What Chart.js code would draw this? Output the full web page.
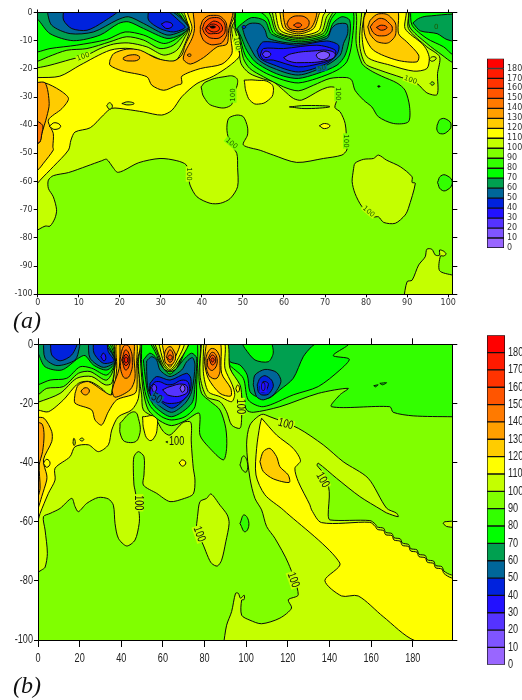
<!DOCTYPE html>
<html><head><meta charset="utf-8">
<script src="https://cdn.jsdelivr.net/npm/chart.js@4/dist/chart.umd.js"></script>
<style>
html,body{margin:0;padding:0;background:#fff;width:522px;height:700px;overflow:hidden}
canvas{position:absolute}
.tag{position:absolute;left:13px;font:italic 24px/24px "Liberation Serif",serif;color:#111}
</style></head><body>
<div style="position:absolute;left:0;top:0;width:470px;height:320px"><canvas id="ca"></canvas></div>
<div style="position:absolute;left:480px;top:50px;width:42px;height:210px"><canvas id="ba"></canvas></div>
<div class="tag" style="top:308px">(a)</div>
<div style="position:absolute;left:0;top:330px;width:470px;height:345px"><canvas id="cb"></canvas></div>
<div style="position:absolute;left:480px;top:325px;width:42px;height:350px"><canvas id="bb"></canvas></div>
<div class="tag" style="top:673px">(b)</div>
<script>
// ---- shared values ----
const binLows=[0,10,20,30,40,50,60,70,80,90,100,110,120,130,140,150,160,170,180];
const binColors=['#9966ff','#7f55ff','#5533ff','#2211ff','#0022dd','#006699','#00a050','#00ff00','#33ff00','#80ff00','#c4ff00','#ffff00','#ffcc00','#ff9f00','#ff7a00','#ff5500','#ff3300','#ff1a00','#ff0000'];
const barTicks=[0,10,20,30,40,50,60,70,80,90,100,110,120,130,140,150,160,170,180];
const xTicksA=[0,10,20,30,40,50,60,70,80,90,100];
const yTicksA=[-100,-90,-80,-70,-60,-50,-40,-30,-20,-10,0];
const xTicksB=[0,20,40,60,80,100,120,140,160,180];
const yTicksB=[-100,-80,-60,-40,-20,0];

// ---- panel (a) contours: flat x,y lists in axis units ----
const aBg=[-20,20,130,20,130,-130,-20,-130];
const aLime=[-1,-78,1.8,-75.8,3,-75.8,4.2,-73,4.6,-70,3.8,-65.4,2.6,-62.4,2.6,-59.5,3.8,-57.9,7.5,-56.8,12,-54.5,15.6,-52.6,16.8,-52.1,18.5,-55.3,19.4,-56.7,20.9,-56.1,24.6,-53.3,29.8,-51.8,33.9,-52.6,36.2,-54.1,36.8,-58,37.1,-61.2,38.8,-65.4,42,-67.7,44.5,-67.7,46.9,-66,48.7,-61.8,48.7,-55,48.5,-50,46.9,-46.5,46.1,-41.8,46.5,-37.6,48.5,-36.4,50.1,-37,51.1,-40.6,51.1,-43.5,50.1,-47,54.2,-48.9,57.4,-50.6,63.1,-53.2,69.6,-51.8,74.1,-50.6,75.3,-48.8,75.3,-46.5,74.9,-39.4,73.7,-35.3,72.4,-33.7,73,-30.5,73,-27,71.2,-26.4,68.8,-27.6,64.3,-31.1,62.3,-30.5,59.9,-27.6,57.4,-24.6,55,-23.6,51.5,-21.5,49.5,-18,49,-12,48,-6,47.5,-5,47,3,-1,3];
const aHole=[39.8,-26.4,41,-24.6,45.4,-22.8,48.2,-23,48.6,-25.8,47.4,-29.3,47,-33,43,-33.3,40.6,-30.3];
const aBlobY=[50.3,-24,53,-24,56.6,-25,57.4,-28.2,56.2,-31.1,53.8,-32.5,52.1,-31.7,50.9,-28.8];
const aSliver=[61.3,-33.5,65.6,-33,71.2,-33.4,65.6,-34.1];
const aLoopY=[68.6,-40.2,69.9,-39.4,71.2,-40.2,69.9,-41.2];
const aHoleR1=[97.3,-40,98.1,-37.9,99.7,-38,100.7,-40,99.7,-42.4,98.1,-43,97.3,-41.8];
const aHoleR2=[97.4,-60.3,98.2,-58,99.7,-57.9,101,-60.3,99.7,-63,98.2,-62.8];
const aIsland=[76.9,-55.9,77.3,-53.5,79.4,-52.1,81.8,-51.8,83,-50.6,85,-52.4,88.3,-54.7,91.2,-58.3,91.2,-60.3,92,-60.6,90.3,-69.5,89.5,-71.9,87.1,-74.8,84.3,-74.5,83,-72.5,81.8,-72.5,79,-68.9,77.3,-64.2,76.6,-60];
const aCorner=[89.1,-102,90,-95.5,91.2,-95,92.8,-89.6,94.4,-86.7,94.8,-84,96,-84,96.9,-86.1,97.9,-86.1,97.9,-84.3,98.9,-84.7,99.5,-85.7,98.9,-86.4,98.1,-86.4,97.9,-91.6,101.1,-93.2,104,-94,104,-102];
const aYellow=[-1,-62.5,0.6,-59.5,3.8,-54.7,7.5,-48.8,8.1,-45.3,9.1,-42.4,12.8,-40.9,16,-36.4,18,-34,21.7,-34.4,25.8,-35.3,30.2,-36.4,32.7,-34.7,35.1,-29.9,38.8,-25.2,42.8,-22.6,46.9,-18.7,49.2,-15.1,47.7,-9.8,47.3,-5.1,49.3,1,35.4,1,37,-5.7,35.9,-11,33.9,-16.7,31.5,-17.5,27.4,-15.1,22.5,-12.8,17.6,-13.4,10.3,-18.7,5.4,-22.6,0,-23.1,-1,-23];
const aLoop1=[16.8,-33.1,17.5,-32,18.2,-33.3,17.5,-34.3];
const aLoop2=[20.5,-32.3,22,-31.7,23.5,-32.3,22,-32.8];
const aStrip120=[-1,-25,1.8,-25,5.4,-27.6,7.5,-30.5,5.9,-34.1,2.6,-38.2,3.8,-43,3.7,-47.7,3.8,-48.8,1.4,-53.5,0,-55.9,-1,-56];
const aStrip130=[-1,-25,1.8,-25,2.8,-32.3,2.2,-37,1,-43,0.5,-46,-1,-47];
const aStrip140=[-1,-37.8,1.2,-40,1,-43,0.5,-46,-1,-46];
const aStripLoop=[2.8,-40.4,4.2,-39.1,5.6,-40.4,4.2,-41.5];
const aOrange=[17.6,-16.9,18.5,-14.6,21.7,-13,25,-13.4,29,-16.3,33.1,-17.2,35.1,-15.1,35.9,-11.6,37.6,-5.7,36.7,1,48.2,1,46.9,-5.1,47.1,-9.8,47.3,-14.6,44.9,-18.3,39.6,-19.9,35.1,-22.6,35.1,-25.2,33.9,-25.8,30.7,-27.6,27.8,-25.8,26.6,-22.8,20.5,-20.7,17.6,-18.7];
const aPatch=[20.9,-16,22.5,-15.1,24.6,-15.4,24.6,-16.7,22.5,-17.2,20.9,-16.7];
const aPk130=[37.8,1,38.2,-5.7,37.6,-9.2,35.9,-14,35.5,-16.7,37.2,-18.3,40.4,-16,43.7,-12.2,46.1,-11.2,46.5,-6.3,47.3,1];
const aPk140=[39.6,-5.1,40.6,-2.1,42.8,-1,45.1,-2.1,46.1,-5.7,45.4,-9.8,43.7,-11.3,41.2,-10.8,39.8,-8];
const aPk150=[40.1,-5.7,41,-3,43,-1.8,44.9,-2.7,45.7,-5.7,44.9,-8.4,42.8,-9.2,41,-8];
const aPk160=[40.8,-5.7,41.9,-3.9,43.3,-3.1,44.9,-4.9,44.6,-6.9,42.8,-7.5,41.4,-7.2];
const aPk170=[41,-5.4,42.8,-4.1,44.3,-5.7,42.8,-6.9];
const aPkDot=[41.9,-5,42.9,-4.8,43.3,-5.2,42.4,-5.5];
const aPkLoop=[36.4,-15.1,36.9,-14.7,37.4,-15.1,36.9,-15.6];
const aL90=[-1,-19.6,0,-19.6,3,-18.7,7.9,-16.7,12,-15.1,15.2,-12.8,18.5,-11.2,22.1,-10.8,26.6,-12.2,30.7,-15.1,33.9,-13.4,35.9,-8.6,36.7,-5.7,34.7,1,-1,3];
const aL80=[-1,-17.3,0,-17.3,2.6,-15.7,7.1,-13.4,12,-12.8,17.6,-10.4,21.7,-8.6,25.8,-9.8,29.8,-12.8,33.1,-11.6,35.9,-7.5,36.7,-5.4,33.9,1,-1,3];
const aL70=[-1,-14,0,-14,3,-12.8,9.5,-11.6,16.8,-9.6,21.3,-6.9,25.8,-8,30.7,-11,33.9,-9.2,36.3,-5.7,33.1,1,-1,3];
const aL60=[-1,-1.8,0,-2.4,3,-7.5,8.7,-10,15.2,-8,19.7,-3.9,22.1,-3.3,25.8,-5.7,31.5,-9.2,34.7,-8,36.7,-5.3,32.3,1,-1,2];
const aL50=[2.2,1,3.4,-4.5,7.9,-7.5,13.6,-6.9,19.3,-2.7,22.1,-1.5,25.8,-3.9,31.5,-8,34.7,-6.9,36.7,-5.1,31.5,1];
const aL40a=[6.3,1,6.3,-2.7,8.3,-5.7,12,-6.3,16,-3.3,19.7,1];
const aL40b=[27,1,27,-2.7,29.8,-5.7,33.1,-6.9,35.9,-5.3,34.7,-3.3,31,1];
const aL30=[30.1,-4.1,31.5,-3.3,32.9,-4.5,31.5,-5.7];
const aU80=[47.8,1,48.1,-5.3,48.9,-7.5,50.1,-16.3,51.7,-19.9,55,-22.8,59.9,-26.4,63.5,-27.8,67.2,-25.8,71.2,-23.4,75.3,-23.1,76.5,-24,77.3,-27.6,79.4,-31.1,81.4,-33.5,83,-37,86.7,-39.4,90.3,-38.8,90.6,-33.5,89.5,-27.6,87.5,-25,83.8,-22.6,81,-20.5,79,-18.1,77.6,-11,77.3,1,72.7,1,71.1,-2.1,69.5,-7.5,63.5,-9.2,58.2,-7.1,56.8,-1.5,55.8,1];
const aU70=[48.2,1,48.2,-5.3,49.1,-8,50.5,-15.1,52.5,-18.7,55.8,-21.7,59.9,-24,63.5,-25,68,-23.4,72.9,-20.5,75.3,-17.5,76.5,-11,76.8,1,73.7,1,71.6,-2.1,69.9,-8,63.5,-9.8,57.6,-7.5,56,-2.1,54.2,0.2,51.7,1];
const aU60=[48.6,-5.7,49.7,-9.2,50.9,-13.4,53,-17.5,56.6,-20.7,59.9,-22.6,63.5,-23.4,68,-21.7,72.9,-18.7,74.9,-15.1,76,-8.6,76,-2.7,74.1,-1.5,72,-3.7,70.4,-8.4,63.5,-10.4,57,-7.7,55.4,-3,52.1,-1.8,49.3,-4.5];
const aU50=[49.9,-5.7,51.7,-3.9,54.2,-4.1,55.4,-6.3,56.2,-9.2,63.1,-11,70.4,-9.2,71.6,-5.7,72.9,-4.1,75.3,-4.1,75.5,-7.5,74.5,-11,73.7,-15.1,70.4,-18.7,63.5,-22.2,56.6,-19.3,53.4,-16.3,51.7,-12.2,50.5,-8.6];
const aU40=[53.4,-13.4,55,-10.4,63.5,-11.6,70.4,-10.1,73.3,-11.6,73,-14.6,70.4,-18.1,63.5,-21.1,56.6,-18.1,54.2,-16.3];
const aU30=[54.2,-15.1,55,-12.8,59.9,-12.8,68,-11.6,72.5,-13.4,72.1,-16.3,68.8,-18.1,63.5,-19.3,57.4,-16.9,55,-16.7];
const aU20=[59.9,-16,61.9,-14.6,67.6,-13.6,71.2,-13.6,72.5,-15.1,70.8,-16.9,63.9,-17.8,61.1,-17.2];
const aU10=[67.8,-15.1,68.8,-14,70.4,-14,71.1,-15.1,70,-16.6,68.4,-16.3];
const aU20b=[54.7,-14.8,55.6,-13.7,56.8,-14.8,55.6,-16];
const aU40c=[49.7,-5.1,50.2,-4.6,50.7,-5.1,50.2,-5.7];
const aH100=[57,1,58.6,-6.9,63.5,-8.8,69,-7.1,70.4,-1.5,71.6,1];
const aH110=[57.8,1,59.1,-6.3,63.5,-8.2,68.4,-6.5,69.6,-0.9,70.6,1];
const aH120=[58.9,1,59.9,-5.7,63.5,-7.6,67.2,-5.7,68.6,-0.4,69.2,1];
const aH130=[59.7,1,60,-2.7,60.7,-5.7,63.5,-6.9,66.4,-5.7,67.6,-2.7,67.8,1];
const aH140=[60.7,-4.1,61.5,-2.1,63.5,-1.2,65.6,-2.1,66.1,-4.1,65.2,-5.7,63.5,-6,61.5,-5.7];
const aH150=[62.3,-4.5,63.4,-3.7,64.3,-4.5,63.4,-5.3];
const aR100=[79,1,78.4,-11,79.8,-18.1,83.4,-20.5,88.7,-23.1,92.4,-25.2,94.8,-28.5,97.3,-29.1,97.4,-21.7,97.9,-15.7,94.8,-12.2,90.3,-5.7,90,1];
const aR110=[79.8,1,79,-7.5,80.2,-15.7,85.9,-18.7,91.6,-20.8,94.8,-19.9,95.4,-16.3,94.8,-13.4,93.6,-11,89.5,-5.7,89.5,1];
const aR120=[80.2,1,79.4,-2.7,79.8,-8.6,81.8,-13.4,87.5,-16.9,92.4,-17.5,92.8,-15.1,89.9,-10.4,87.9,-7.5,87.5,1];
const aR130=[80.4,-5.1,81.4,-2.1,83.8,-0.4,86.3,-2.1,87.3,-5.7,86.3,-9.8,83.8,-10.8,81.4,-8.6];
const aR140=[81,-5.1,82.2,-3,83.8,-2.1,85.7,-3.9,86.4,-5.7,85.7,-7.5,83.8,-8.3,82,-7.5];
const aR150=[82.5,-5.3,83.8,-4.5,85.1,-5.3,83.8,-6.3];
const aRLoop=[95.4,-16.6,96.2,-15.7,97.1,-16.2,96.1,-17.3];
const aRDot=[95.6,-25.2,96.1,-24.6,96.6,-25.2,96.1,-25.8];
const aDot=[82.8,-26.2,83.1,-26,83.4,-26.2,83.1,-26.5];
const aC80=[90.5,1,90.6,-5.1,94.8,-11,98.5,-15.1,101.3,-17.9,104,-18,104,1];
const aC70=[90.8,1,91.2,-4.5,94.8,-9.2,98.9,-12.2,101.3,-15.1,104,-15.1,104,1];
const aC60=[91.4,-3.7,92.8,-2.1,94.8,-1.3,104,-1.3,104,-10.4,99.7,-9.6,97.3,-7.5,93.2,-6.5];
const layersA=[[aBg,9],[aLime,10],[aHole,9],[aBlobY,11],[aSliver,9],[aLoopY,11],[aHoleR1,8],[aHoleR2,8],[aIsland,10],[aCorner,10],
[aYellow,11],[aLoop1,10],[aLoop2,10],[aStrip120,12],[aStrip130,13],[aStrip140,14],[aStripLoop,11],[aOrange,12],[aPatch,13],[aPk130,13],[aPk140,14],[aPk150,15],[aPk160,16],[aPk170,16],[aPkDot,'#000'],[aPkLoop,13],
[aL90,9],[aL80,8],[aL70,7],[aL60,6],[aL50,5],[aL40a,4],[aL40b,4],[aL30,3],
[aU80,8],[aU70,7],[aU60,6],[aU50,5],[aU40,4],[aU30,3],[aU20,2],[aU10,1],[aU20b,2],[aU40c,4],
[aH100,10],[aH110,11],[aH120,12],[aH130,13],[aH140,14],[aH150,15],
[aR100,10],[aR110,11],[aR120,12],[aR130,13],[aR140,14],[aR150,15],[aRLoop,10],[aRDot,9],[aDot,'#000'],
[aC80,8],[aC70,7],[aC60,6]];
const labelsA=[[11.1,-15.7,'100',-20,10],[47.7,-29.3,'100',-90,9],[47.2,-46.5,'100',40,9],[48.5,-11,'100',80,10],[36.8,-57.3,'100',90,10],[73,-28.8,'100',90,9],[75.1,-45.6,'100',90,9],[90.8,-24,'100',20,10],[80.6,-70.7,'100',40,10],[69.2,-19.9,'50',-10,5],[97.1,-5.3,'0',0,6]];

// ---- panel (b) contours ----
const bBg=[-40,20,260,20,260,-130,-40,-130];
const bLime=[-1,-77.5,1.8,-76.3,3.4,-75.4,4.5,-70.7,3.4,-62.8,2.6,-58.3,5.8,-57.2,10.6,-55.5,16.2,-52.1,17.8,-54.9,19.4,-56.6,23.4,-53.8,29,-51.8,33.8,-52.3,36.2,-54.4,37,-60.6,38.6,-65.6,42.6,-68.2,46.6,-66.2,48.6,-60.6,48.6,-57.2,46.5,-49,46.1,-47.6,45.8,-41.9,46.1,-38,48.2,-36.3,50.9,-38,50.9,-44.2,50.6,-47.6,57,-50.4,63.4,-53.2,70.4,-52.1,74.6,-50.6,75.4,-45.9,74.6,-41.9,73.8,-35.2,73.6,-32.4,73.4,-26.4,69.8,-26.4,63.4,-30.7,60.2,-29.5,56.2,-25,50.6,-22.2,49.8,-17.1,48.6,-11.5,48.2,-6.4,47.7,3,-1,3];
const bHole=[39.4,-26.7,45,-23,47.8,-23.9,48.2,-31.8,42.6,-33.1,39.7,-30.7];
const bBlobY=[50.2,-24.5,56.2,-24.5,57.3,-27.8,55.4,-32,53,-32.3,50.9,-29];
const bLoopY=[67.8,-40.1,69.4,-39.1,71,-40.1,69.4,-41.2];
const bOval=[97,-40.8,98.6,-37.8,100.5,-39.7,100.2,-43.1,98.6,-42.8];
const bOval2=[97,-60.6,99,-57.7,101.3,-60.6,99.4,-63.4];
const bIsland=[76.6,-58.3,77.8,-53.2,81,-52.1,83.1,-50.6,87.4,-54.4,90.9,-57.7,91.8,-60.6,90.2,-66.8,88.2,-73,86.1,-75,83.4,-74.1,81.8,-72.1,79.4,-67.9,76.2,-62.8];
const bSliver=[61.4,-33,63,-32.8,65,-33.2,63,-33.4];
const bBig=[89,-102,90.6,-95,93,-90.4,94.9,-84.2,96.2,-84.2,97.3,-85.9,99,-84.8,99,-86.3,97.8,-86.5,97.8,-91.6,101.8,-93.3,107.4,-94.5,116.2,-92.6,121.8,-89.2,120.2,-86.4,125,-84.7,120.2,-74,113.8,-65.6,109.8,-61.6,107.4,-56,104.2,-52.1,101.8,-45.3,100.2,-34,101.8,-27.3,107.4,-23.7,111.4,-24.5,125,-28.4,137,-34,146.6,-39.7,158.6,-45.3,167.4,-55.4,172.2,-57.1,173,-58.3,167.4,-57,165,-56,154.6,-51.5,143.4,-45.3,134.6,-40.2,134.1,-41,137.8,-44.2,139.9,-49.8,139.4,-57.7,140.2,-59.4,159.4,-59.6,162,-60.8,163,-61.8,166,-62.2,167,-63.6,170,-64,171,-65.4,174,-65.8,175,-67.2,178,-67.7,179,-69.1,182,-69.5,183,-71,186,-71.4,187,-72.9,190,-73.3,191,-74.8,194,-75.2,195,-76.7,198.6,-78,204,-78,204,-102];
const bBigY=[107.4,-25,114.6,-30.7,122.6,-35.2,126.1,-39.4,123.4,-41.9,125,-46.4,130.6,-54.3,131.4,-56,136.2,-60.3,159.4,-60.2,162,-61.6,163,-62.6,166,-63,167,-64.4,170,-64.7,171,-66.2,174,-66.6,175,-68,178,-68.4,179,-69.9,182,-70.3,183,-71.8,186,-72.2,187,-73.7,190,-74.1,191,-75.6,194,-76,195,-77.5,198.6,-79,204,-79,204,-102,181,-100.2,165.8,-92.1,153.8,-85.1,145.8,-85.1,137.8,-79.9,145,-74,117.8,-56,109,-50.9,104.7,-44.2,105,-35.2,106.6,-27.3];
const bBigO=[106.6,-39.7,108.2,-36.3,111.4,-35.2,114.6,-38,116.2,-41.4,120.2,-44.2,120.7,-46.7,113,-45.5,108.2,-43];
const bEdge=[194.6,-60.5,195.4,-60,204,-60,204,-61.9,196.2,-61.6];
const bYellow=[-1,-59.4,0,-59.4,1,-57.2,5,-50.4,8.2,-45.9,8.2,-41.9,15.4,-38,17.8,-34.6,24.2,-34,29,-36.3,33.8,-34,35.4,-29,38.6,-24.5,45,-22.2,48.2,-18.3,48.6,-11.5,47.7,-5.9,49,1,37,1,37,-7,34.6,-18.3,31.4,-15.4,25,-12.6,19.4,-13.2,12.2,-18.8,5,-22.8,0,-22.2,-1,-22];
const bDot1=[20,-32.2,21,-31.7,22,-32.2,21,-32.7];
const bDot2=[16.8,-33.4,17.2,-31.8,17.9,-33,17.4,-34.2];
const bStrip120=[-1,-24.7,2.9,-25,6.6,-29.5,6.6,-32.9,2.6,-39.1,4.2,-44.2,4.2,-45.9,1.8,-51.5,0,-55.5,-1,-56];
const bStrip130=[-1,-26.2,2,-27,2.9,-30.7,2.2,-36.3,0.6,-40.8,1,-48.7,0,-51.5,-1,-52];
const bStripLoop=[2.6,-40.2,4.2,-38.9,5.8,-40.2,4.2,-41.6];
const bOrange=[17.8,-16.6,19.4,-13.7,24.2,-12.6,30.6,-15.4,34.6,-17.1,36.2,-16.6,37.8,-8.1,38.1,1,47,1,47.4,-6.4,47.6,-13.7,46.6,-16.6,37.8,-18.8,33.8,-22.8,30.6,-27.3,27.4,-25.6,25.8,-22.2,17.8,-19.9];
const bPatch=[20.6,-15.8,22.6,-14.7,24.6,-15.4,23.7,-16.9,21.8,-16.9];
const bPk130=[39.4,1,39,-8.1,35.7,-15.4,37,-17.9,44.2,-15.4,46.6,-11.5,46.1,-4.7,45.8,1];
const bPk140=[39.4,-5.3,40.6,-1.4,42.2,-0.2,44.2,-1.4,45.3,-5.3,44.5,-9.8,42.2,-11.5,40.2,-9.8];
const bPk150=[40.2,-5.3,42.2,-1.9,44.2,-5.3,42.2,-8.7];
const bPk160=[40.6,-5.3,42.2,-3.4,43.8,-5.3,42.2,-7.2];
const bPk170=[41.3,-5.3,42.2,-4.3,43.2,-5.3,42.2,-6.3];
const bL90=[-1,-19.6,0,-19.6,10.6,-16.6,18.6,-11.5,25.8,-10.9,32.2,-13.7,35.4,-13.2,37,-7,37,-5.3,35.4,1,-1,3];
const bL80=[-1,-17.1,0,-17.1,4.2,-14.9,12.2,-14.3,19.4,-9.8,25,-9.2,33,-12.1,37,-6.4,34.2,1,-1,3];
const bL70=[-1,-13.7,0,-13.7,5.8,-12.1,13.8,-11.5,20.2,-7.6,25.8,-8.1,33,-10.4,37,-6.1,33,1,-1,3];
const bL60=[-1,-2.5,0,-3,3.4,-7.6,11.4,-8.7,19.4,-4.7,22.6,-3.8,26.6,-7,33,-8.7,37,-5.9,31.4,1,-1,2];
const bL50a=[2.6,1,3.4,-4.7,9.1,-7.2,17.8,-5.3,19.8,-1.3,19.8,1];
const bL50b=[24.2,1,25,-4.7,31.4,-7.8,37,-5.6,30.6,1];
const bL40a=[6,1,6.6,-3.6,10.6,-5.6,16.2,-3.6,18.6,1];
const bL40b=[26.6,1,26.9,-3,31.4,-6.4,36.5,-5.6,33.8,-2.5,32.6,1];
const bL30=[30.2,-4.2,31.4,-3,32.6,-4.5,31.7,-5.6];
const bU80=[49,1,49.3,-6.4,50.6,-16,53,-22.2,58.6,-25.9,64.2,-27.5,70.6,-25.9,77.4,-23.3,77.8,-30.7,81.8,-34.6,89,-39.1,90.6,-35.2,90.2,-28.4,87.4,-22.2,82.9,-19.4,78.6,-16.6,77.3,-10.9,77.8,1,73,1,69.8,-2.5,66.6,-8.1,63.4,-9.6,60.2,-8.1,57,-2.5,53.8,1];
const bU70=[49.8,1,49.8,-7,51.4,-16,54.1,-21.1,59.4,-24.5,64.2,-25.6,70.6,-24.5,75.4,-21.1,76.2,-13.7,76.5,1,73.8,1,70.6,-2.5,67,-7.9,63.4,-9.3,59.8,-7.9,56.2,-2.5,53,1];
const bU60=[50.6,-5.3,53.8,-3,57,-4.7,60.2,-8.1,63.4,-10.1,66.6,-8.1,70.6,-4.7,73.8,-3,76.2,-4.7,75.4,-13.7,73.8,-20,64.2,-24.5,56.2,-21.1,53,-17.1,51.4,-10.4];
const bU50=[52.2,-5.6,54.6,-4.2,57,-5.3,58.6,-8.7,63.4,-10.9,69,-8.7,71.4,-5.9,74.2,-4.5,75.4,-7,73.8,-16,70.6,-20,64.2,-23,57,-20,53,-15.4,52.2,-9.2];
const bU40=[53.8,-13.2,57,-10.9,63.4,-12.1,71.4,-9.8,73.4,-11.5,73,-16,68.2,-20,64.2,-21.6,57.8,-18.8,53.8,-16.6];
const bU30=[54.1,-14.3,57,-12.6,63.4,-13.7,69.8,-12.1,72.6,-13.7,71.4,-17.7,64.2,-20,57,-18.3,54.1,-17.1];
const bU20=[59.8,-15.4,63.4,-14.3,69.8,-13.5,71.9,-14.9,70.6,-16.9,63.4,-17.4];
const bU10=[68.2,-14.9,69.3,-13.7,70.6,-14.9,69.3,-16.2];
const bU20b=[54.6,-14.7,55.7,-13.5,57,-14.9,55.7,-16.2];
const bH100=[55.7,1,60.2,-7,63.4,-9,66.6,-7,72.2,1];
const bH110=[57.8,1,60.6,-6.4,63.4,-8.5,66.1,-6.4,70.2,1];
const bH120=[59.4,1,61.3,-5.3,63.4,-7.8,65.4,-5.3,68.2,1];
const bH130=[60.6,-4.2,61.4,-1.9,63.4,-0.8,65,-1.9,66.1,-4.2,65,-6.4,63.4,-7,61.4,-6.4];
const bH140=[61.6,-4.2,63.4,-1.9,65,-4.2,63.4,-6.1];
const bH150=[62.2,-4.4,63.4,-3.6,64.5,-4.4,63.4,-5.3];
const bR100=[78.6,1,77.8,-10.4,81,-17.7,87.4,-19.4,90.6,-22.8,93,-27.3,97,-28.4,97.8,-25,97.8,-17.1,97,-13.7,92.2,-8.1,90.6,1];
const bR110=[79.7,1,79.4,-9.2,81.8,-16,87.4,-17.7,93,-19.4,94.5,-17,93.3,-13.7,89.8,-8.1,89.3,1];
const bR120=[81,1,80,-5.9,81.8,-11.5,87.4,-16.6,92.6,-17.5,92.6,-14.9,88.2,-9.8,87.4,1];
const bR130=[80.6,-4.7,81.8,-2.5,83.8,-1.4,86.6,-3,87.4,-6.4,86.6,-10.9,83.8,-11.5,81.3,-9.2];
const bR140=[81.3,-5.3,83.8,-2.7,86.1,-5.3,84.2,-8.7,81.8,-7.9];
const bR150=[82.2,-5,83.8,-3.6,85.4,-5.3,83.8,-7];
const bR160=[83,-5.2,83.8,-4.6,84.6,-5.2,83.8,-6];
const bRLoop=[95,-15,95.9,-13.8,96.8,-15.1,95.9,-16.2];
const bC80=[92.2,-8.1,97,-16,100.2,-22.2,103.4,-23,116.2,-21.1,134.6,-16.6,149,-14.9,145,-17.1,141,-21.1,169,-21.1,170.6,-23,180.2,-24.2,198.9,-24.5,204,-24.5,204,1,90,1.5];
const bC70=[92.2,-7.2,98.6,-11.5,101,-18.8,108.2,-21.1,122.6,-17.1,134.6,-14.3,145,-8.7,149.5,-5,141.8,-3.8,149,-0.2,149,1,90,1.5,90.6,-3];
const bC60=[112.2,1,134.6,1,131.4,-0.8,127.4,-4.2,122.6,-11.5,116.2,-15.4,110.6,-18.3,105,-17.7,101.8,-16,100.5,-10.4,97,-7,92.2,-5.9,91.4,-3.6,90.6,1,97,1,99.4,-1.4,104.2,-5.3,110.6,-5.9,113,-3];
const bB50=[103.4,-13.7,104.2,-10.4,109,-8.5,114.6,-9.5,116.7,-12.6,113,-17.1,108.2,-18.8,105,-17.7];
const bB40=[105.3,-13.7,106.6,-11.5,109,-10.6,112.2,-12.1,113,-14.3,110.6,-16.9,107.4,-17.1,105.8,-16];
const bB30=[106.6,-14.3,108.2,-12.6,110.6,-13.2,109.8,-15.4,108.5,-16.2,106.9,-16];
const bFleck1=[161.3,-14,163.4,-13.7,162,-14.4];
const bFleck2=[164.2,-13.2,167.4,-13,165.5,-13.7];
const layersB=[[bBg,9],[bLime,10],[bHole,9],[bBlobY,11],[bLoopY,11],[bOval,9],[bOval2,8],[bIsland,10],[bSliver,9],[bBig,10],[bBigY,11],[bBigO,12],[bEdge,10],
[bYellow,11],[bDot1,10],[bDot2,10],[bStrip120,12],[bStrip130,13],[bStripLoop,11],[bOrange,12],[bPatch,13],[bPk130,13],[bPk140,14],[bPk150,15],[bPk160,16],[bPk170,17],
[bL90,9],[bL80,8],[bL70,7],[bL60,6],[bL50a,5],[bL50b,5],[bL40a,4],[bL40b,4],[bL30,3],
[bC80,8],[bC70,7],[bC60,6],[bB50,5],[bB40,4],[bB30,3],[bFleck1,7],[bFleck2,7],
[bU80,8],[bU70,7],[bU60,6],[bU50,5],[bU40,4],[bU30,3],[bU20,2],[bU10,1],[bU20b,2],
[bH100,10],[bH110,11],[bH120,12],[bH130,13],[bH140,14],[bH150,15],
[bR100,10],[bR110,11],[bR120,12],[bR130,13],[bR140,14],[bR150,15],[bR160,16],[bRLoop,11]];
const labelsB=[[48.2,-53.6,'100',90,10],[77.4,-64.2,'100',70,10],[66.6,-32.9,'100',0,10],[97,-21,'100',90,10],[57,-18.3,'50',30,5],[119,-27,'100',15,10],[136.7,-45.9,'100',60,10],[122.6,-79.7,'100',70,10],[108.2,-14.6,'0',0,3]];

// ---- drawing ----
const FA='"DejaVu Sans",sans-serif', FB='"Liberation Sans",sans-serif';
const labelPlugin={id:'contourLabels',afterDatasetsDraw(chart,args,o){
  const c=chart.ctx,sx=chart.scales.x,sy=chart.scales.y;
  c.save();c.font=o.font;c.textAlign='center';c.textBaseline='middle';
  for(const [x,y,t,r,b] of o.items){
    c.save();c.translate(sx.getPixelForValue(x),sy.getPixelForValue(y));c.rotate(r*Math.PI/180);
    const w=c.measureText(t).width*o.k;
    c.fillStyle=binColors[b];c.fillRect(-w/2-1,-o.h/2,w+2,o.h);
    c.fillStyle=o.color;c.fillText(t,0,0);c.restore();
  }
  c.restore();
}};
function condense(id,k){
  const c=document.getElementById(id).getContext('2d'),f=c.fillText.bind(c);
  c.fillText=(t,x,y)=>f(t,x,y,c.measureText(t).width*k);
}
function poly(flat,col,i){
  const data=[];let closedLoop=true;
  for(let k=0;k<flat.length;k+=2){data.push({x:flat[k],y:flat[k+1]});if(flat[k+1]>0.5||flat[k]<0||flat[k]>=103)closedLoop=false;}
  data.push({x:flat[0],y:flat[1]});
  const round=closedLoop&&flat.length<=18;
  return {data,showLine:true,fill:'shape',order:-i,tension:round?0.5:0.28,capBezierPoints:false,pointRadius:0,pointHoverRadius:0,
    borderColor:'#0a0a0a',borderWidth:1,backgroundColor:typeof col==='number'?binColors[col]:col};
}
function fixed(size){return s=>{Object.assign(s,size);};}
function contourChart(id,cfg){
  const tick=(list)=>(s)=>{s.ticks=list.map(v=>({value:v}));};
  const base=(extra,len)=>Object.assign({type:'linear',border:{color:'#000',width:1,z:1},grid:{drawOnChartArea:false,color:'#000',tickLength:len}},extra);
  const lab={color:cfg.tickColor,font:{family:cfg.family,size:cfg.size},autoSkip:false,maxRotation:0,callback:v=>String(v)};
  new Chart(document.getElementById(id),{type:'scatter',
    data:{datasets:cfg.layers.map((l,i)=>poly(l[0],l[1],i))},
    plugins:[labelPlugin],
    options:{responsive:true,maintainAspectRatio:false,animation:false,events:[],
      layout:{padding:0},
      plugins:{legend:{display:false},tooltip:{enabled:false},filler:{drawTime:'beforeDatasetDraw',propagate:false},
        contourLabels:{items:cfg.labels,font:cfg.labelFont,color:cfg.labelColor,h:cfg.labelH,k:cfg.k}},
      scales:{
        x:base({position:'bottom',min:0,max:cfg.xMax,afterBuildTicks:tick(cfg.xt),afterFit:fixed({height:cfg.bottom}),ticks:Object.assign({padding:cfg.xPad},lab)},cfg.lenB),
        x2:base({position:'top',min:0,max:cfg.xMax,afterBuildTicks:tick(cfg.xt),afterFit:fixed({height:cfg.top}),ticks:{display:false}},cfg.lenT),
        y:base({position:'left',min:-100,max:0,afterBuildTicks:tick(cfg.yt),afterFit:fixed({width:cfg.left}),ticks:Object.assign({padding:1},lab)},cfg.lenL),
        y2:base({position:'right',min:-100,max:0,afterBuildTicks:tick(cfg.yt),afterFit:fixed({width:cfg.right}),ticks:{display:false}},cfg.lenR)
      }}});
}
function barChart(id,cfg){
  new Chart(document.getElementById(id),{type:'bar',
    data:{labels:[''],datasets:binLows.map((v,i)=>({data:[10],backgroundColor:binColors[i],borderColor:'#111',borderWidth:1,borderSkipped:false,barPercentage:1,categoryPercentage:1}))},
    options:{responsive:true,maintainAspectRatio:false,animation:false,events:[],
      layout:{padding:{left:7,top:cfg.top,bottom:cfg.bottom}},
      plugins:{legend:{display:false},tooltip:{enabled:false}},
      scales:{x:{display:false,stacked:true},
        y:{stacked:true,position:'right',min:0,max:190,afterBuildTicks:s=>{s.ticks=barTicks.map(v=>({value:v}));},afterFit:fixed({width:cfg.axis}),
          border:{display:false},grid:{display:false,drawTicks:false},
          ticks:{padding:3,autoSkip:false,color:cfg.tickColor,font:{family:cfg.family,size:cfg.size},callback:v=>String(v)}}}}});
}
condense('cb',0.76);condense('bb',0.76);
contourChart('ca',{layers:layersA,labels:labelsA,labelFont:'7px '+FA,labelColor:'#1c5a00',labelH:6,k:1,xMax:101,xt:xTicksA,yt:yTicksA,
  left:37.7,right:17.7,top:12.5,bottom:25.7,lenT:3,lenL:4,lenR:5,lenB:3,xPad:1,family:FA,size:8,tickColor:'#333'});
contourChart('cb',{layers:layersB,labels:labelsB,labelFont:'12px '+FB,labelColor:'#111',labelH:10,k:0.76,xMax:199,xt:xTicksB,yt:yTicksB,
  left:38,right:17.7,top:14.3,bottom:35,lenT:6,lenL:4,lenR:5,lenB:7,xPad:4,family:FB,size:12,tickColor:'#222'});
barChart('ba',{top:8.5,bottom:12,axis:18,family:FA,size:8,tickColor:'#333'});
barChart('bb',{top:10,bottom:9.3,axis:17,family:FB,size:12,tickColor:'#222'});
</script>
</body></html>
